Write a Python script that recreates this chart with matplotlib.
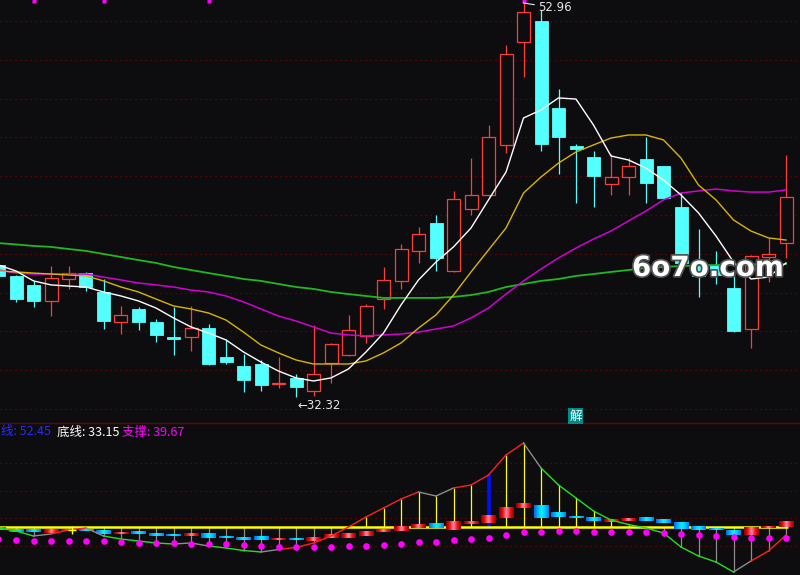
import numpy as np
import matplotlib
matplotlib.use('Agg')
import matplotlib.pyplot as plt
from matplotlib.patches import Rectangle
from matplotlib.lines import Line2D
from matplotlib.colors import LinearSegmentedColormap
import matplotlib.patheffects as pe

plt.rcParams['font.family'] = ['Noto Sans CJK SC', 'DejaVu Sans']

BG = '#0d0d10'
UP = '#ff3c3c'
DOWN = '#54ffff'
GRID = '#7a0000'

# ---- price candles (oldest first) ----
opens  = [39.24, 38.67, 38.20, 37.36, 38.51, 38.82, 37.83, 36.26, 36.94, 36.26,
          35.47, 35.47, 35.94, 34.43, 33.96, 34.06, 33.01, 33.33, 32.65, 34.11,
          34.53, 35.53, 37.46, 38.41, 39.98, 41.44, 38.93, 42.17, 42.91, 45.53,
          50.92, 52.02, 47.46, 45.47, 44.90, 43.48, 43.85, 44.79, 44.43, 42.28,
          39.40, 39.24, 38.04, 35.89, 39.66, 40.39]
closes = [38.67, 37.46, 37.36, 38.56, 38.82, 38.09, 36.31, 36.63, 36.26, 35.58,
          35.37, 35.94, 34.06, 34.16, 33.22, 32.96, 33.07, 32.86, 33.54, 35.11,
          35.84, 37.10, 38.46, 40.08, 40.87, 39.61, 42.70, 42.91, 45.94, 50.29,
          52.49, 45.58, 45.94, 45.32, 43.90, 43.85, 44.43, 43.54, 42.75, 39.35,
          38.67, 38.72, 35.79, 39.71, 39.82, 42.80]
highs  = [39.35, 38.70, 38.41, 39.19, 39.19, 38.85, 38.51, 37.10, 37.04, 36.42,
          37.04, 37.10, 36.15, 35.37, 34.58, 34.27, 34.43, 33.54, 36.10, 35.15,
          36.63, 37.20, 39.14, 40.34, 41.23, 41.86, 43.12, 44.84, 46.57, 50.76,
          52.96, 52.59, 48.46, 45.58, 45.21, 45.05, 44.84, 45.94, 44.45, 43.06,
          41.13, 39.98, 38.98, 39.75, 40.66, 45.00]
lows   = [38.56, 37.31, 37.04, 36.57, 37.99, 37.88, 35.89, 35.63, 35.84, 35.21,
          34.53, 34.74, 34.01, 34.06, 32.59, 32.65, 32.80, 32.32, 32.38, 33.07,
          34.48, 35.16, 36.94, 37.99, 39.35, 38.93, 38.88, 41.86, 42.85, 45.11,
          49.09, 45.21, 44.01, 42.49, 42.28, 42.91, 42.91, 42.49, 42.70, 39.24,
          37.57, 38.25, 35.75, 34.90, 38.35, 39.61]

# moving averages
ma_white   = [39.24, 38.93, 38.41, 38.20, 38.14, 38.09, 37.83, 37.62, 37.36, 36.99,
              36.47, 36.00, 35.68, 35.32, 34.69, 34.16, 33.69, 33.33, 33.17, 33.33,
              33.80, 34.69, 35.68, 37.15, 38.46, 39.40, 40.19, 41.18, 42.65, 44.11,
              46.94, 47.36, 47.99, 47.93, 46.57, 44.95, 44.74, 44.32, 43.69, 42.91,
              41.97, 40.76, 39.40, 38.51, 38.61, 39.35]
ma_yellow  = [38.93, 38.88, 38.82, 38.77, 38.72, 38.67, 38.41, 38.09, 37.83, 37.46,
              37.10, 36.94, 36.73, 36.36, 35.73, 35.05, 34.64, 34.27, 34.06, 34.06,
              34.06, 34.22, 34.64, 35.16, 35.94, 36.63, 37.67, 38.88, 40.03, 41.18,
              43.01, 43.85, 44.58, 45.16, 45.53, 45.89, 46.05, 46.05, 45.79, 44.84,
              43.43, 42.65, 41.60, 41.02, 40.66, 40.55]
ma_magenta = [38.98, 38.82, 38.77, 38.77, 38.77, 38.77, 38.61, 38.46, 38.30, 38.20,
              38.09, 37.93, 37.83, 37.62, 37.31, 36.94, 36.57, 36.31, 36.00, 35.68,
              35.58, 35.53, 35.58, 35.63, 35.73, 35.89, 36.05, 36.47, 36.99, 37.72,
              38.41, 39.03, 39.61, 40.13, 40.60, 41.02, 41.55, 42.07, 42.65, 43.01,
              43.12, 43.22, 43.12, 43.06, 43.06, 43.17]
ma_green   = [40.39, 40.32, 40.24, 40.19, 40.08, 39.98, 39.82, 39.66, 39.50, 39.35,
              39.14, 38.98, 38.82, 38.67, 38.51, 38.41, 38.25, 38.09, 37.99, 37.83,
              37.72, 37.62, 37.52, 37.52, 37.52, 37.52, 37.57, 37.67, 37.83, 38.09,
              38.25, 38.41, 38.51, 38.67, 38.77, 38.88, 38.98, 39.09, 39.14, 39.19,
              39.22, 39.24, 39.24, 39.27, 39.29, 39.29]

top_marks = [2, 6, 12, 30]

# ---- lower indicator ----
osc   = [-0.10, -0.40, -0.90, -0.70, -0.30, -0.10, -0.90, -1.20, -1.40, -1.60,
         -1.70, -1.60, -1.90, -2.10, -2.35, -2.50, -2.25, -2.05, -1.60, -0.90,
          0.00,  1.00,  1.90,  2.80,  3.50,  3.10,  3.90,  4.20,  5.20,  7.20,
          8.40,  5.90,  4.20,  2.90,  1.60,  0.70,  0.25, -0.10, -0.60, -2.00,
         -2.90, -3.50, -4.50, -3.40, -2.40, -0.80]
dots  = [-1.2, -1.3, -1.4, -1.4, -1.4, -1.4, -1.4, -1.5, -1.6, -1.6,
         -1.6, -1.7, -1.7, -1.7, -1.8, -1.9, -2.0, -2.0, -2.0, -2.0,
         -1.9, -1.9, -1.8, -1.7, -1.5, -1.5, -1.3, -1.2, -1.1, -0.8,
         -0.5, -0.5, -0.4, -0.4, -0.5, -0.5, -0.5, -0.5, -0.6, -0.7,
         -0.8, -0.9, -1.0, -1.1, -1.1, -1.1]
box_hi = [-0.07, -0.17, -0.23, -0.17, -0.20, -0.17, -0.37, -0.57, -0.47, -0.60,
          -0.77, -0.67, -0.67, -0.97, -1.07, -0.97, -1.17, -1.13, -1.03, -0.77,
          -0.67, -0.47, -0.27,  0.03,  0.20,  0.33,  0.53,  0.53,  1.13,  1.93,
           2.33,  2.20,  1.43,  1.03,  0.93,  0.80,  0.87,  0.97,  0.80,  0.43,
           0.03, -0.17, -0.30,  0.00,  0.07,  0.53]
box_lo = [-0.30, -0.47, -0.50, -0.57, -0.40, -0.37, -0.70, -0.67, -0.70, -0.90,
          -0.90, -0.90, -1.10, -1.10, -1.30, -1.30, -1.27, -1.30, -1.43, -1.10,
          -1.10, -0.90, -0.50, -0.40, -0.13, -0.10, -0.30,  0.30,  0.37,  0.87,
           1.90,  0.90,  0.97,  0.93,  0.60,  0.53,  0.63,  0.60,  0.43, -0.20,
          -0.30, -0.30, -0.80, -0.80, -0.10,  0.00]
box_red = [0, 0, 0, 1, 1, 0, 0, 1, 0, 0,
           0, 1, 0, 0, 0, 0, 1, 0, 1, 1,
           1, 1, 1, 1, 1, 0, 1, 1, 1, 1,
           1, 0, 0, 0, 0, 1, 1, 0, 0, 0,
           0, 0, 0, 1, 1, 1]
signal_bar = 28

legend_top = '线: 52.45'
legend_bottom = '底线: 33.15'
legend_support = '支撑: 39.67'

n = len(opens)
xs = np.arange(n)
X0, X1 = 1.5 / 17.5, 801.5 / 17.5

fig = plt.figure(figsize=(8, 5.75), dpi=100, facecolor=BG)
ax = fig.add_axes([0, 152 / 575, 1, 423 / 575])
ax2 = fig.add_axes([0, 0, 1, 152 / 575])
for a in (ax, ax2):
    a.set_facecolor(BG)
    a.set_axis_off()

# upper panel grid
for lv in np.linspace(31.70, 52.02, 11):
    ax.axhline(lv, color=GRID, lw=0.9, ls=(0, (1, 3)), zorder=0)

# candles
w = 13 / 17.5
for i in range(n):
    o, c, h, l = opens[i], closes[i], highs[i], lows[i]
    if c >= o:
        ax.vlines(i, c, h, color=UP, lw=0.9, zorder=2)
        ax.vlines(i, l, o, color=UP, lw=0.9, zorder=2)
        ax.add_patch(Rectangle((i - w / 2, o), w, max(c - o, 0.02),
                               fc=BG, ec=UP, lw=0.9, zorder=2))
    else:
        ax.vlines(i, l, h, color=DOWN, lw=0.9, zorder=2)
        ax.add_patch(Rectangle((i - w / 2, c), w, o - c,
                               fc=DOWN, ec=DOWN, lw=0.6, zorder=2))

ax.plot(xs, ma_green, color='#1fb81f', lw=1.3, zorder=3)
ax.plot(xs, ma_magenta, color='#d200d2', lw=1.1, zorder=3)
ax.plot(xs, ma_yellow, color='#d9b400', lw=1.0, zorder=3)
ax.plot(xs, ma_white, color='#ffffff', lw=1.0, zorder=3)

ax.plot(top_marks, [53.07] * len(top_marks), 's', color='#ff00ff', ms=2.5, mec='none', zorder=5)

ax.annotate('52.96', xy=(30, highs[30]), xytext=(15, -5), textcoords='offset pixels',
            color='#e6e6e6', fontsize=8.5, ha='left', va='center', family='DejaVu Sans',
            arrowprops=dict(arrowstyle='-', color='#e6e6e6', lw=0.8, shrinkA=1, shrinkB=0),
            zorder=6)
ax.annotate('\u219032.32', xy=(17, lows[17]), xytext=(1, -8), textcoords='offset pixels',
            color='#e6e6e6', fontsize=8.5, ha='left', va='center', family='DejaVu Sans',
            zorder=6)

ax.set_xlim(X0, X1)
ax.set_ylim(30.97, 53.117)

# lower panel
for lv in np.linspace(-1.9, 6.4, 4):
    ax2.axhline(lv, color=GRID, lw=0.9, ls=(0, (1, 3)), zorder=0)

for i in range(n):
    v = osc[i]
    if i == signal_bar:
        ax2.vlines(i, 0, v, color='#0010ff', lw=2.6, zorder=2)
    else:
        ax2.vlines(i, 0, v, color='#ffff00' if v > 0 else '#8c8c8c', lw=0.9, zorder=2)

ax2.hlines(0, X0 - 1, 45.1, color='#ffff00', lw=1.8, zorder=3)
ax2.plot([4.2], [-0.3], '+', color='#ffff00', ms=6, mew=1.0, zorder=6)

red_cmap = LinearSegmentedColormap.from_list('r', ['#8a0000', '#f01010', '#ff8cb0', '#f01818', '#9a0000'])
cyan_cmap = LinearSegmentedColormap.from_list('c', ['#0068e8', '#00b4ff', '#10f0ff', '#00c8ff', '#0080f0'])
grad = np.linspace(0, 1, 32).reshape(1, -1)
bw = 15 / 17.5
for i in range(n):
    lo, hi = box_lo[i], box_hi[i]
    if hi - lo < 0.12:
        mid = (hi + lo) / 2
        lo, hi = mid - 0.06, mid + 0.06
    ax2.imshow(grad, extent=[i - bw / 2, i + bw / 2, lo, hi],
               cmap=red_cmap if box_red[i] else cyan_cmap,
               aspect='auto', interpolation='bilinear', zorder=4)

prev = 0
for i in range(n - 1):
    d = osc[i + 1] - osc[i]
    s = 1 if d > 0 else -1
    if prev != 0 and s != prev:
        col = '#8c8c8c'
    else:
        col = '#ff2020' if s > 0 else '#20e020'
    ax2.plot([i, i + 1], [osc[i], osc[i + 1]], color=col, lw=1.0, zorder=5)
    prev = s

ax2.plot(xs, dots, 'o', color='#ff00ff', ms=4.8, mec='none', zorder=6)

ax2.set_xlim(X0, X1)
ax2.set_ylim(-4.8, 10.4)

fig.add_artist(Line2D([0, 1], [152 / 575, 152 / 575], color='#6a0000', lw=1.0))

ty = 1 - 432 / 575
fig.text(1 / 800, ty, legend_top, color='#2a2aff', fontsize=9, ha='left', va='center')
fig.text(57 / 800, ty, legend_bottom, color='#ffffff', fontsize=9, ha='left', va='center')
fig.text(122 / 800, ty, legend_support, color='#ff00ff', fontsize=9, ha='left', va='center')

fig.text(575.5 / 800, 1 - 416 / 575, '解', color='white', fontsize=9, ha='center', va='center',
         bbox=dict(boxstyle='square,pad=0.12', fc='#008a8a', ec='none'))

fig.text(708 / 800, 1 - 276 / 575, '6o7o.com', color='white', fontsize=20, fontweight='bold',
         family='DejaVu Sans', ha='center', va='baseline',
         path_effects=[pe.withStroke(linewidth=2.5, foreground='#505050')])

fig.savefig('out.png', dpi=100, facecolor=BG)
